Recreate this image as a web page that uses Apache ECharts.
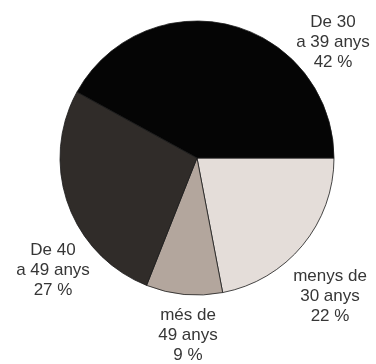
<!DOCTYPE html>
<html>
<head>
<meta charset="utf-8">
<style>
  html, body { margin: 0; padding: 0; background: #ffffff; }
  #chart { width: 376px; height: 364px; }
</style>
<script src="https://cdn.jsdelivr.net/npm/echarts@6/dist/echarts.min.js"></script>
</head>
<body>
<div id="chart"></div>
<script>
// Age groups, listed clockwise starting from three o'clock
const categories = ['menys de\n30 anys', 'més de\n49 anys', 'De 40\na 49 anys', 'De 30\na 39 anys'];
const shares = [22, 9, 27, 42];
const sliceColors = ['#e4ddd9', '#b3a69d', '#302c29', '#050505'];

// Where each label block sits (centre of the three text lines)
const labelSpots = [[330, 296], [188, 335], [53, 270], [333, 42]];

const chart = echarts.init(document.getElementById('chart'), null, { renderer: 'canvas' });

chart.setOption({
  backgroundColor: '#ffffff',
  animation: false,
  series: [{
    type: 'pie',
    center: [197, 158],
    radius: [0, 137],
    startAngle: 0,
    clockwise: true,
    avoidLabelOverlap: false,
    itemStyle: { borderColor: '#1a1a1a', borderWidth: 0.8 },
    label: {
      show: true,
      position: 'outside',
      formatter: p => p.name + '\n' + p.value + ' %',
      fontFamily: 'Liberation Sans, Arial, sans-serif',
      fontSize: 17,
      lineHeight: 20,
      color: '#363636',
      align: 'center'
    },
    labelLine: { show: false },
    labelLayout: params => ({
      x: labelSpots[params.dataIndex][0],
      y: labelSpots[params.dataIndex][1],
      align: 'center',
      verticalAlign: 'middle'
    }),
    data: categories.map((name, i) => ({
      name: name,
      value: shares[i],
      itemStyle: { color: sliceColors[i] }
    }))
  }]
});
</script>
</body>
</html>
